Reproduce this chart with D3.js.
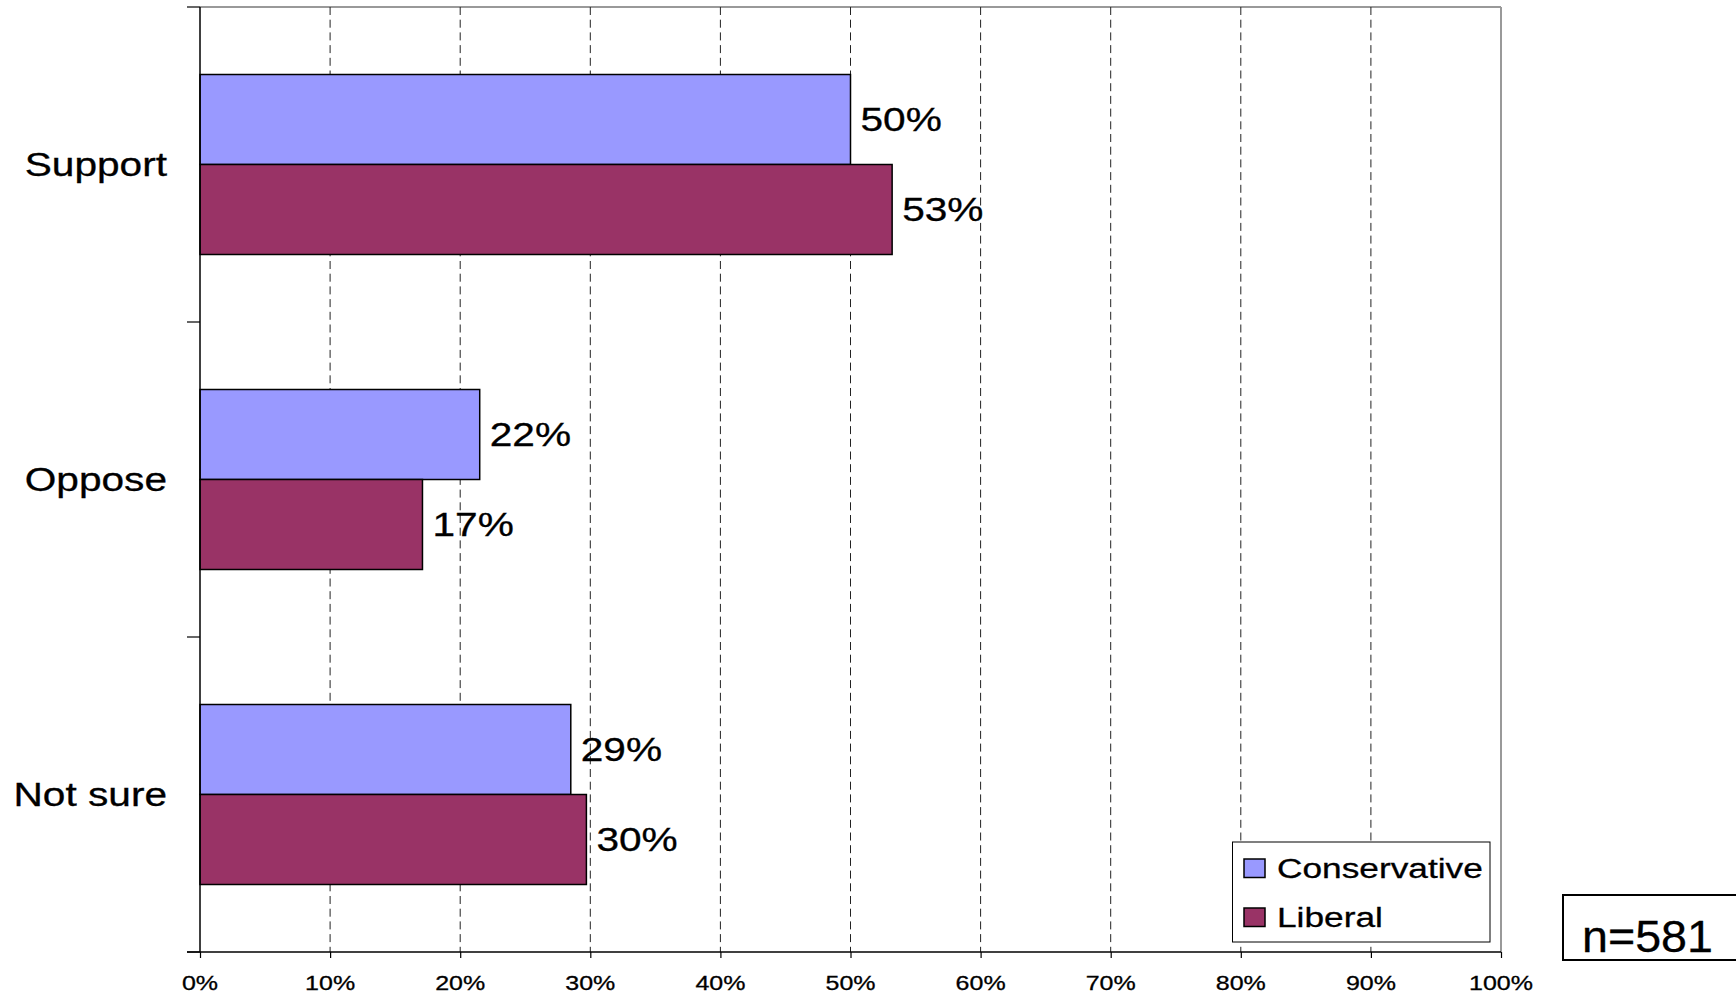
<!DOCTYPE html>
<html>
<head>
<meta charset="utf-8">
<script src="https://cdn.jsdelivr.net/npm/d3@7"></script>
<style>
  html, body { margin: 0; padding: 0; background: #fff; }
  svg { display: block; font-family: "Liberation Sans", Arial, sans-serif; }
</style>
</head>
<body>
<svg id="chart" width="1736" height="995"></svg>
<script>
// ---- data ----
const categories = ["Support", "Oppose", "Not sure"];
const seriesNames = ["Conservative", "Liberal"];
const conservative = [50.0, 21.5, 28.5];
const liberal = [53.2, 17.1, 29.7];
const xTicks = [0, 10, 20, 30, 40, 50, 60, 70, 80, 90, 100];
const sampleNote = "n=581";

const colors = { Conservative: "#9999FF", Liberal: "#993366" };
const seriesValues = { Conservative: conservative, Liberal: liberal };

// ---- layout ----
const L = 200, R = 1501, T = 7, B = 952;

const svg = d3.select("#chart");

const x = d3.scaleLinear().domain([0, 100]).range([L, R]);
const pad = 135 / 315;
const y = d3.scaleBand().domain(categories).range([T, B])
  .paddingInner(pad).paddingOuter(pad / 2);
const ySub = d3.scaleBand().domain(seriesNames).range([0, y.bandwidth()]);

function stretchedText(g, tx, ty, txt, size, anchor, sx) {
  return g.append("text")
    .attr("transform", `translate(${tx},${ty}) scale(${sx},1)`)
    .attr("text-anchor", anchor)
    .attr("font-size", size)
    .attr("fill", "#000")
    .attr("stroke", "#000").attr("stroke-width", 0.3)
    .text(txt);
}

// plot border (gray, top and right)
svg.append("line").attr("x1", L).attr("x2", R).attr("y1", T).attr("y2", T)
  .attr("stroke", "#999").attr("stroke-width", 2);
svg.append("line").attr("x1", R).attr("x2", R).attr("y1", T).attr("y2", B)
  .attr("stroke", "#999").attr("stroke-width", 2);

// gridlines
svg.append("g").selectAll("line")
  .data(xTicks.filter(t => t > 0 && t < 100))
  .join("line")
  .attr("x1", d => x(d)).attr("x2", d => x(d))
  .attr("y1", T).attr("y2", B)
  .attr("stroke", "#222").attr("stroke-width", 1)
  .attr("stroke-dasharray", "8,4.7");

// bars
const groups = svg.append("g").selectAll("g")
  .data(categories)
  .join("g")
  .attr("transform", d => `translate(0,${y(d)})`);

groups.selectAll("rect")
  .data((c, i) => seriesNames.map(s => ({ s, v: seriesValues[s][i] })))
  .join("rect")
  .attr("x", x(0))
  .attr("y", d => ySub(d.s))
  .attr("width", d => x(d.v) - x(0))
  .attr("height", ySub.bandwidth())
  .attr("fill", d => colors[d.s])
  .attr("stroke", "#000")
  .attr("stroke-width", 1.5);

// value labels
groups.each(function (c, i) {
  const g = d3.select(this);
  seriesNames.forEach(s => {
    const v = seriesValues[s][i];
    stretchedText(g, x(v) + 10, ySub(s) + ySub.bandwidth() / 2 + 11.6,
      Math.round(v) + "%", 32.5, "start", 1.25);
  });
});

// x axis
const xAxis = svg.append("g")
  .attr("transform", `translate(0,${B})`)
  .call(d3.axisBottom(x).tickValues(xTicks).tickSize(6).tickFormat(""));
xAxis.select(".domain").remove();
xAxis.selectAll(".tick line").attr("stroke", "#000").attr("stroke-width", 1.2);
svg.append("line").attr("x1", L - 13).attr("x2", R).attr("y1", B).attr("y2", B)
  .attr("stroke", "#000").attr("stroke-width", 1.5);
const xl = svg.append("g");
xTicks.forEach(t => stretchedText(xl, x(t), 990, t + "%", 20.5, "middle", 1.22));

// y axis
svg.append("line").attr("x1", L).attr("x2", L).attr("y1", T).attr("y2", B)
  .attr("stroke", "#000").attr("stroke-width", 1.5);
const step = y.step();
svg.append("g").selectAll("line")
  .data(d3.range(categories.length + 1))
  .join("line")
  .attr("x1", L - 13).attr("x2", L)
  .attr("y1", i => T + i * step).attr("y2", i => T + i * step)
  .attr("stroke", "#000").attr("stroke-width", 1.2);
const yl = svg.append("g");
categories.forEach(c => stretchedText(yl, 167, y(c) + y.bandwidth() / 2 + 11.7, c, 32.5, "end", 1.25));

// legend
const lg = svg.append("g");
lg.append("rect").attr("x", 1232.5).attr("y", 842).attr("width", 257.5).attr("height", 100)
  .attr("fill", "#fff").attr("stroke", "#000").attr("stroke-width", 1);
seriesNames.forEach((s, i) => {
  const yy = 859 + i * 49;
  lg.append("rect").attr("x", 1244).attr("y", yy).attr("width", 21).attr("height", 18.5)
    .attr("fill", colors[s]).attr("stroke", "#000").attr("stroke-width", 1.5);
  stretchedText(lg, 1277, yy + 19, s, 28, "start", 1.26);
});

// sample size note
svg.append("rect").attr("x", 1563).attr("y", 895).attr("width", 180).attr("height", 65)
  .attr("fill", "#fff").attr("stroke", "#000").attr("stroke-width", 2);
stretchedText(svg, 1582, 952, sampleNote, 44, "start", 1.06);
</script>
</body>
</html>
